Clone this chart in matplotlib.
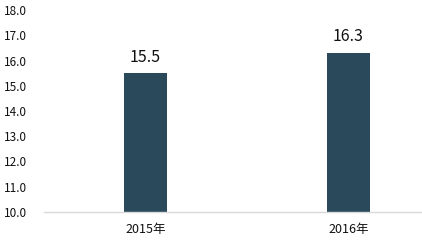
import numpy as np
import matplotlib.pyplot as plt

plt.rcParams['font.family'] = ['Noto Sans CJK SC', 'DejaVu Sans']

years = ['2015年', '2016年']
values = [15.5, 16.3]

fig = plt.figure(figsize=(4.22, 2.48), dpi=100)
ax = fig.add_axes([44 / 422, 36 / 248, 1 - 44 / 422, 202 / 248])

x = np.arange(len(years))
ax.bar(x, values, width=0.215, color='#2A4A5B', bottom=0)
for xi, v in zip(x, values):
    ax.text(xi, v + 0.3, f'{v:.1f}', ha='center', va='bottom', fontsize=11.5, color='#111111')

ax.set_ylim(10, 18)
ax.set_yticks(np.arange(10, 18.1, 1))
ax.set_yticklabels([f'{t:.1f}' for t in np.arange(10, 18.1, 1)])
ax.set_xlim(-0.5, 1.363)
ax.set_xticks(x)
ax.set_xticklabels(years)

for s in ['top', 'right', 'left']:
    ax.spines[s].set_visible(False)
ax.spines['bottom'].set_color('#D9D9D9')
ax.spines['bottom'].set_linewidth(1)
ax.tick_params(axis='y', length=0, labelsize=8.5, pad=12, labelcolor='#111111')
ax.tick_params(axis='x', length=0, labelsize=9, pad=8, labelcolor='#111111')

fig.savefig('out.png', dpi=100)
